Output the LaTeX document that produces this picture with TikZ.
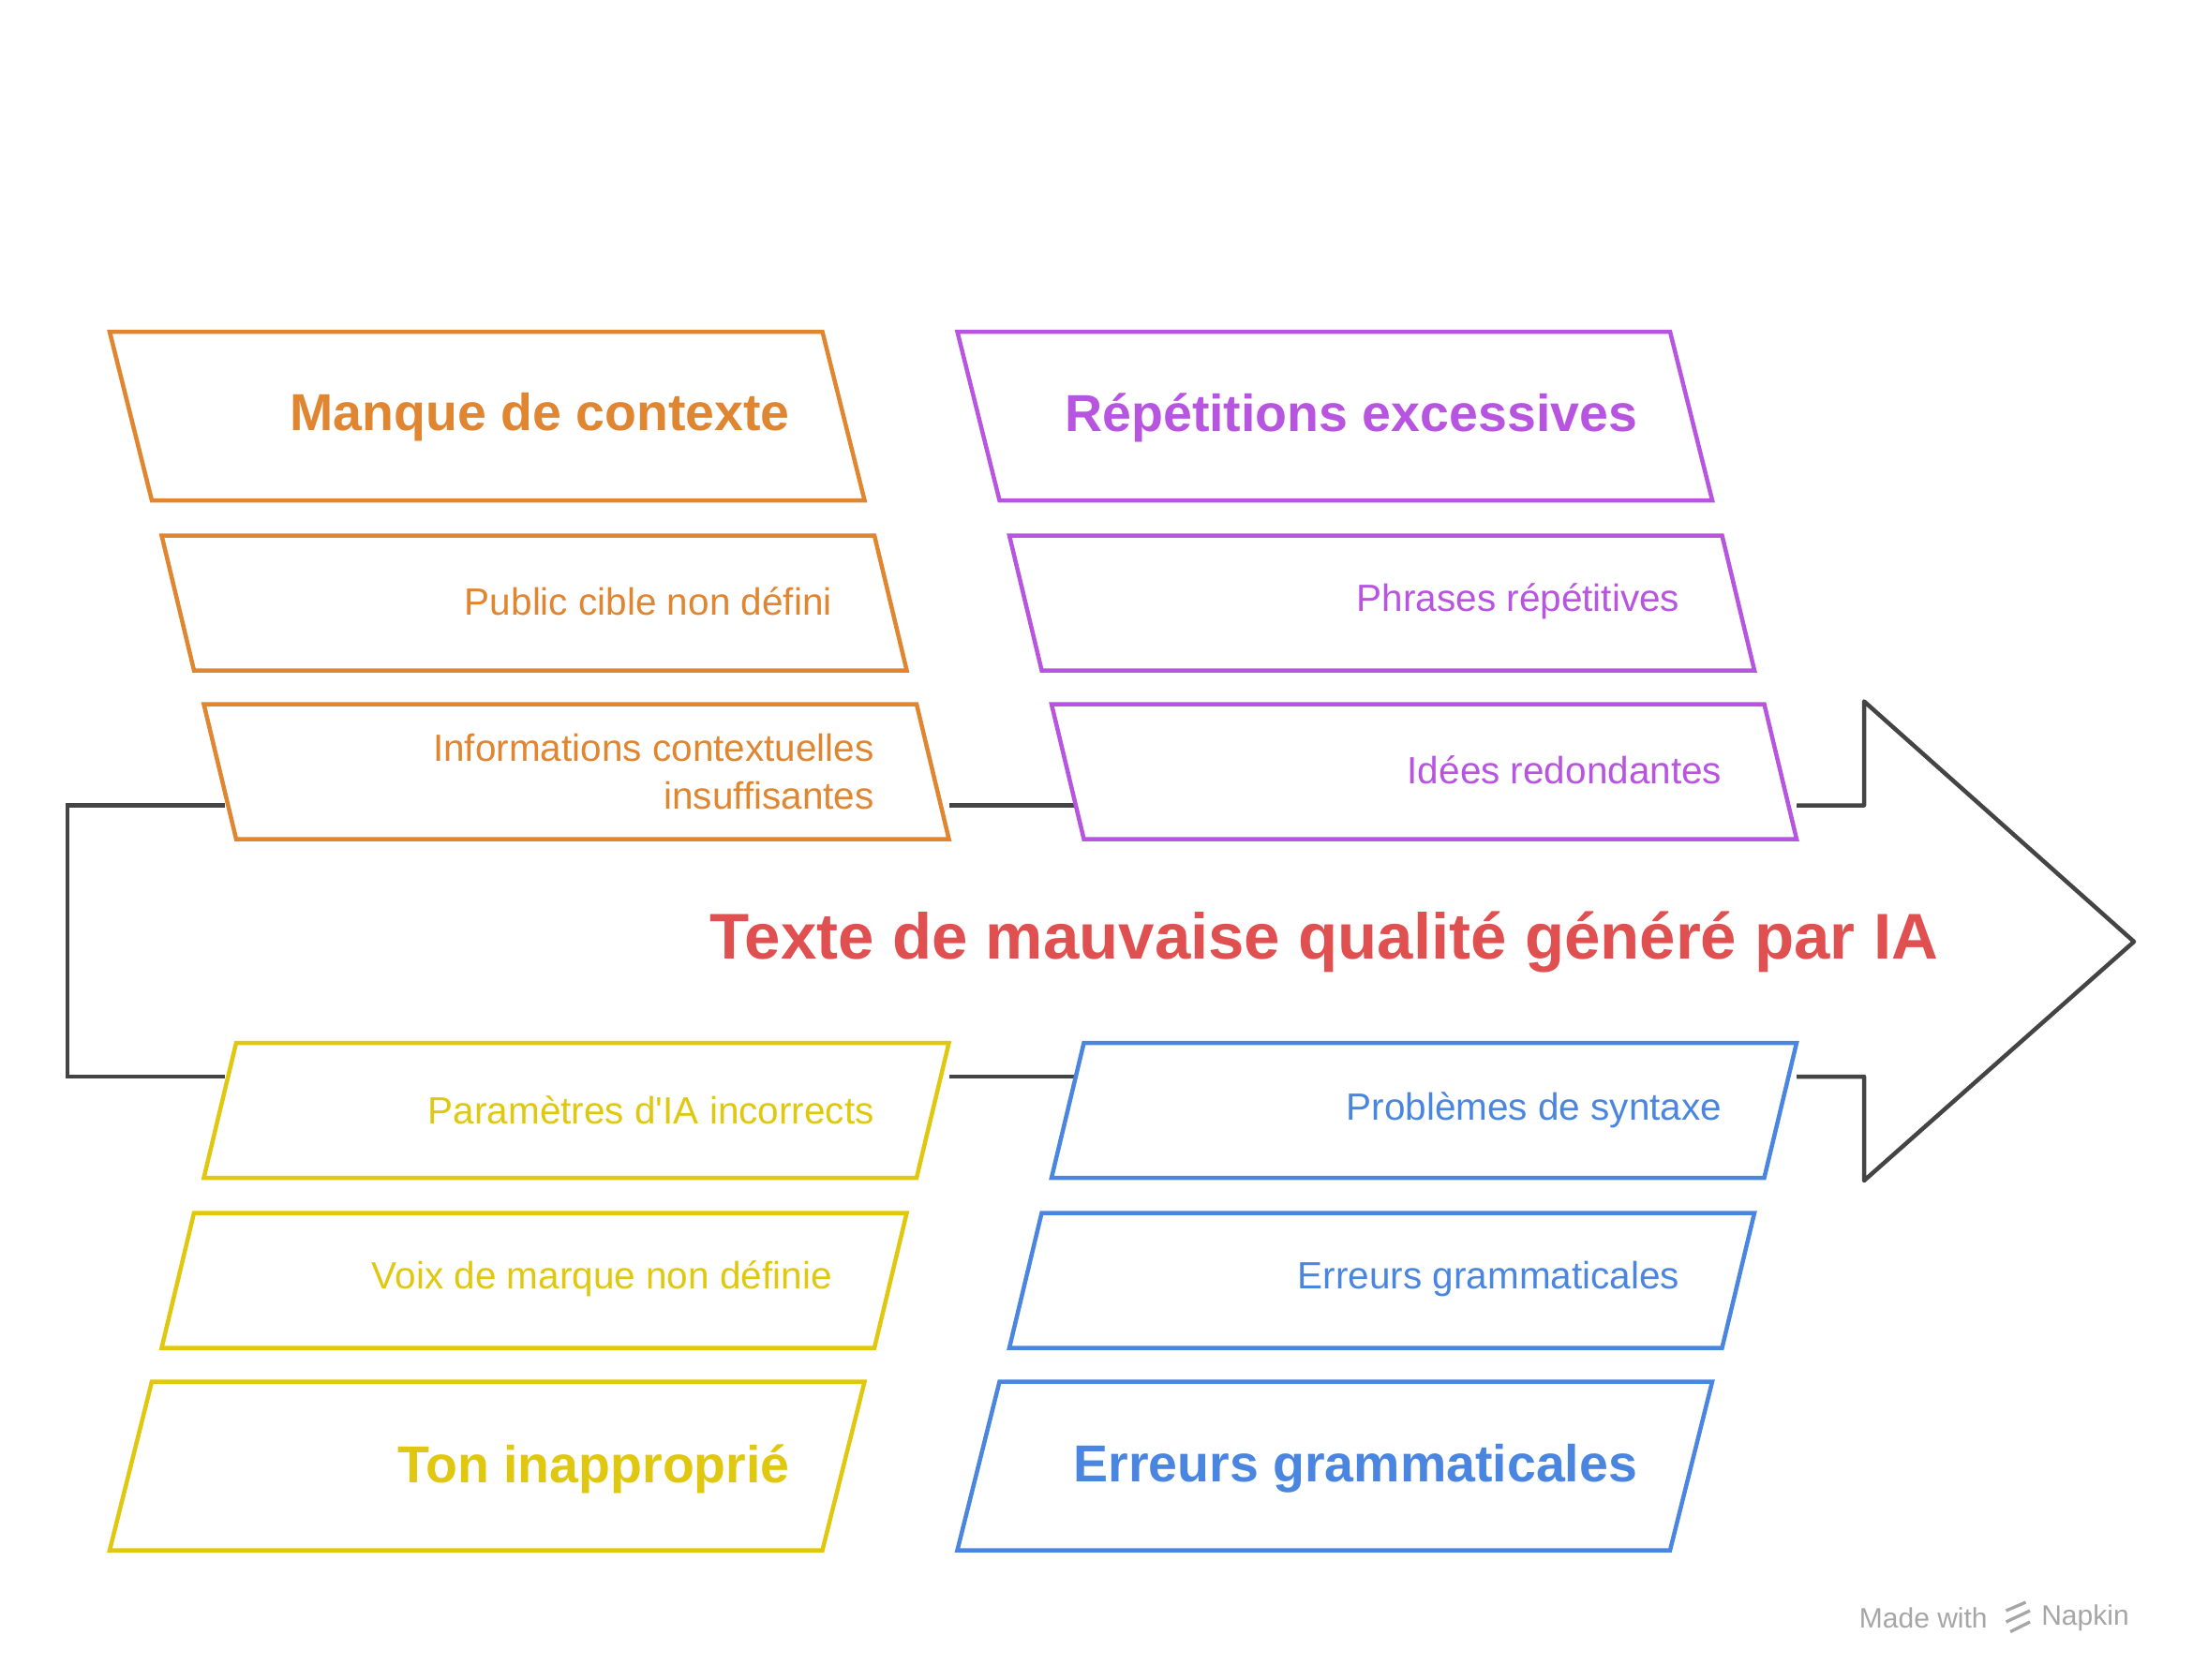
\documentclass[tikz,border=0pt]{standalone}
\usepackage{fontspec}
\setmainfont{Liberation Sans}
\definecolor{cor}{HTML}{E08530}
\definecolor{cpu}{HTML}{B855E0}
\definecolor{cye}{HTML}{E0C810}
\definecolor{cbl}{HTML}{4A86E0}
\definecolor{cre}{HTML}{E05050}
\definecolor{cgr}{HTML}{444444}
\begin{document}
\begin{tikzpicture}[x=1pt,y=-1pt,
  box/.style={line width=3pt,line join=miter},
  sub/.style={anchor=east,font=\fontsize{27}{34}\selectfont,align=right,inner sep=0pt},
  ttl/.style={anchor=east,font=\bfseries\fontsize{37}{44}\selectfont,inner sep=0pt}]
\useasboundingbox (0,0) rectangle (1560,1195);
% spine arrow
\draw[cgr,line width=3pt] (160,573) -- (48,573) -- (48,766) -- (160,766);
\draw[cgr,line width=3pt] (675,573) -- (765,573);
\draw[cgr,line width=3pt] (675,766) -- (765,766);
\draw[cgr,line width=3pt,line join=round] (1278,573) -- (1326,573) -- (1326,499) -- (1518,670) -- (1326,840) -- (1326,766) -- (1278,766);
% orange
\draw[box,cor] (78,236) -- (585,236) -- (615,356) -- (108,356) -- cycle;
\draw[box,cor] (115,381) -- (622,381) -- (645,477) -- (138,477) -- cycle;
\draw[box,cor] (145,501) -- (652,501) -- (675,597) -- (168,597) -- cycle;
% purple
\draw[box,cpu] (681,236) -- (1188,236) -- (1218,356) -- (711,356) -- cycle;
\draw[box,cpu] (718,381) -- (1225,381) -- (1248,477) -- (741,477) -- cycle;
\draw[box,cpu] (748,501) -- (1255,501) -- (1278,597) -- (771,597) -- cycle;
% yellow
\draw[box,cye] (168,742) -- (675,742) -- (652,838) -- (145,838) -- cycle;
\draw[box,cye] (138,863) -- (645,863) -- (622,959) -- (115,959) -- cycle;
\draw[box,cye] (108,983) -- (615,983) -- (585,1103) -- (78,1103) -- cycle;
% blue
\draw[box,cbl] (771,742) -- (1278,742) -- (1255,838) -- (748,838) -- cycle;
\draw[box,cbl] (741,863) -- (1248,863) -- (1225,959) -- (718,959) -- cycle;
\draw[box,cbl] (711,983) -- (1218,983) -- (1188,1103) -- (681,1103) -- cycle;
% texts
\node[ttl,cor] (t1) at (562,297) {Manque de contexte};
\node[sub,cor] (t2) at (592,428) {Public cible non défini};
\node[sub,cor] (t3) at (622,549) {Informations contextuelles\\insuffisantes};
\node[ttl,cpu] (t4) at (1165,297) {Répétitions excessives};
\node[sub,cpu] (t5) at (1195,428) {Phrases répétitives};
\node[sub,cpu] (t6) at (1225,548) {Idées redondantes};
\node[sub,cye] (t7) at (622,790) {Paramètres d\textquotesingle IA incorrects};
\node[sub,cye] (t8) at (592,910) {Voix de marque non définie};
\node[ttl,cye] (t9) at (562,1045) {Ton inapproprié};
\node[sub,cbl] (t10) at (1225,790) {Problèmes de syntaxe};
\node[sub,cbl] (t11) at (1195,910) {Erreurs grammaticales};
\node[ttl,cbl] (t12) at (1165,1045) {Erreurs grammaticales};
\node[cre,font=\bfseries\fontsize{46}{56}\selectfont,inner sep=0pt] (main) at (942,670) {Texte de mauvaise qualité généré par IA};
\node[anchor=east,text=gray!70,font=\fontsize{20}{24}\selectfont,inner sep=0pt] (wm1) at (1414,1151) {Made with};
\node[anchor=west,text=gray!70,font=\fontsize{20}{24}\selectfont,inner sep=0pt] (wm2) at (1452,1151) {Napkin};
\draw[gray!70,line width=2.2pt] (1427,1146) -- (1441,1140) (1427,1154) -- (1444,1146) (1430,1161) -- (1444,1154);
\end{tikzpicture}
\end{document}
